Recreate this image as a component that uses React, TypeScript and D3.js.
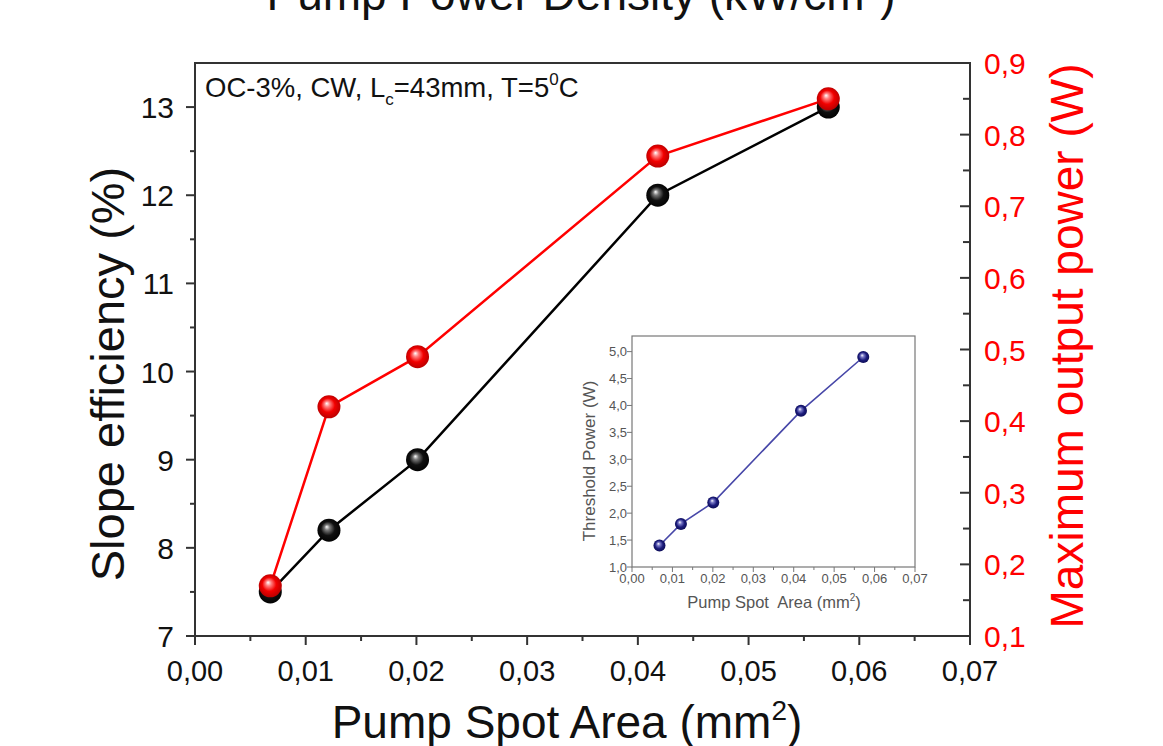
import React from "react";
import * as d3 from "d3";

// Pump spot area (mm^2) shared by all series
const spotArea = [0.0068, 0.0121, 0.0201, 0.0418, 0.0572];
// Slope efficiency (%), left axis
const slopeEfficiency = [7.5, 8.2, 9.0, 12.0, 13.0];
// Maximum output power (W), right axis
const maxOutputPower = [0.17, 0.42, 0.49, 0.77, 0.85];
// Threshold power (W), inset
const thresholdPower = [1.4, 1.8, 2.2, 3.9, 4.9];

const xTickValues = [0, 0.01, 0.02, 0.03, 0.04, 0.05, 0.06, 0.07];
const leftTickValues = [7, 8, 9, 10, 11, 12, 13];
const rightTickValues = [0.1, 0.2, 0.3, 0.4, 0.5, 0.6, 0.7, 0.8, 0.9];
const insetYTickValues = [1.0, 1.5, 2.0, 2.5, 3.0, 3.5, 4.0, 4.5, 5.0];

const comma = (f: string) => (v: number) => d3.format(f)(v).replace(".", ",");
const FONT = "'Liberation Sans', Arial, Helvetica, sans-serif";

function Sphere({ cx, cy, r, grad }: { cx: number; cy: number; r: number; grad: string }) {
  return <circle cx={cx} cy={cy} r={r} fill={`url(#${grad})`} />;
}

export default function App() {
  const W = 1163;
  const H = 746;
  const L = 195, R = 970, T = 63, B = 636;

  const x = d3.scaleLinear().domain([0, 0.07]).range([L, R]);
  const yL = d3.scaleLinear().domain([7, 13.5]).range([B, T]);
  const yR = d3.scaleLinear().domain([0.1, 0.9]).range([B, T]);

  const iL = 632, iR = 915, iT = 336, iB = 567;
  const ix = d3.scaleLinear().domain([0, 0.07]).range([iL, iR]);
  const iy = d3.scaleLinear().domain([1.0, 5.29]).range([iB, iT]);

  const blackLine = d3.line<number>().x((_, i) => x(spotArea[i])).y((d) => yL(d))(slopeEfficiency) || "";
  const redLine = d3.line<number>().x((_, i) => x(spotArea[i])).y((d) => yR(d))(maxOutputPower) || "";
  const blueLine = d3.line<number>().x((_, i) => ix(spotArea[i])).y((d) => iy(d))(thresholdPower) || "";

  const xMinor = d3.range(0.005, 0.07, 0.01);
  const leftMinor = d3.range(7.5, 13.5, 1);
  const rightMinor = d3.range(0.15, 0.9, 0.1);
  const insetXMinor = d3.range(0.005, 0.07, 0.01);

  const fx = comma(".2f");
  const fr = comma(".1f");

  return (
    <svg width={W} height={H} style={{ position: "absolute", left: 0, top: 0, background: "#fff" }} fontFamily={FONT}>
      <defs>
        <radialGradient id="gRed" cx="50%" cy="50%" r="55%" fx="40%" fy="35%">
          <stop offset="0%" stopColor="#ffffff" />
          <stop offset="22%" stopColor="#ff8080" />
          <stop offset="55%" stopColor="#f20000" />
          <stop offset="100%" stopColor="#b00000" />
        </radialGradient>
        <radialGradient id="gBlack" cx="50%" cy="50%" r="55%" fx="40%" fy="35%">
          <stop offset="0%" stopColor="#ffffff" />
          <stop offset="22%" stopColor="#777777" />
          <stop offset="55%" stopColor="#101010" />
          <stop offset="100%" stopColor="#000000" />
        </radialGradient>
        <radialGradient id="gNavy" cx="50%" cy="50%" r="55%" fx="40%" fy="35%">
          <stop offset="0%" stopColor="#ffffff" />
          <stop offset="25%" stopColor="#7a7ac8" />
          <stop offset="60%" stopColor="#1c1c7c" />
          <stop offset="100%" stopColor="#0a0a50" />
        </radialGradient>
      </defs>

      <rect x={0} y={0} width={W} height={H} fill="#fff" />

      {/* top axis title, running off the upper page edge */}
      <text x={581} y={10} fontSize={46} textAnchor="middle" fill="#111">
        Pump Power Density (kW/cm<tspan fontSize={28} dy={-18}>2</tspan><tspan dy={18}>)</tspan>
      </text>

      {/* frame */}
      <rect x={L} y={T} width={R - L} height={B - T} fill="none" stroke="#333" strokeWidth={2} />

      {/* bottom axis */}
      {xTickValues.map((v) => (
        <g key={"xt" + v}>
          <line x1={x(v)} x2={x(v)} y1={B} y2={B + 9} stroke="#333" strokeWidth={2} />
          <text x={x(v)} y={681} fontSize={29} textAnchor="middle" fill="#111">{fx(v)}</text>
        </g>
      ))}
      {xMinor.map((v) => (
        <line key={"xm" + v} x1={x(v)} x2={x(v)} y1={B} y2={B + 5} stroke="#333" strokeWidth={2} />
      ))}

      {/* left axis */}
      {leftTickValues.map((v) => (
        <g key={"lt" + v}>
          <line x1={L - 9} x2={L} y1={yL(v)} y2={yL(v)} stroke="#333" strokeWidth={2} />
          <text x={174} y={yL(v) + 11} fontSize={30} textAnchor="end" fill="#111">{v}</text>
        </g>
      ))}
      {leftMinor.map((v) => (
        <line key={"lm" + v} x1={L - 5} x2={L} y1={yL(v)} y2={yL(v)} stroke="#333" strokeWidth={2} />
      ))}

      {/* right axis */}
      {rightTickValues.map((v) => (
        <g key={"rt" + v}>
          <line x1={R - 10} x2={R} y1={yR(v)} y2={yR(v)} stroke="#333" strokeWidth={2} />
          <text x={984} y={yR(v) + 11} fontSize={30} textAnchor="start" fill="#ff0000">{fr(v)}</text>
        </g>
      ))}
      {rightMinor.map((v) => (
        <line key={"rm" + v} x1={R - 7} x2={R} y1={yR(v)} y2={yR(v)} stroke="#333" strokeWidth={2} />
      ))}

      {/* axis titles */}
      <text x={567} y={738} fontSize={46} textAnchor="middle" fill="#111">
        Pump Spot Area (mm<tspan fontSize={28} dy={-18}>2</tspan><tspan dy={18}>)</tspan>
      </text>
      <text transform="translate(124,374) rotate(-90)" fontSize={47} textAnchor="middle" fill="#111">
        Slope efficiency (%)
      </text>
      <text transform="translate(1083,346) rotate(-90)" fontSize={46} textAnchor="middle" fill="#ff0000">
        Maximum output power (W)
      </text>

      {/* condition note */}
      <text x={205} y={97} fontSize={27.5} fill="#111">
        OC-3%, CW, L<tspan fontSize={17} dy={8}>c</tspan>
        <tspan dy={-8}>=43mm, T=5</tspan>
        <tspan fontSize={17} dy={-12}>0</tspan>
        <tspan dy={12}>C</tspan>
      </text>

      {/* data lines and markers */}
      <path d={blackLine} fill="none" stroke="#000" strokeWidth={2.5} />
      <path d={redLine} fill="none" stroke="#ff0000" strokeWidth={2.5} />
      {slopeEfficiency.map((v, i) => (
        <Sphere key={"b" + i} cx={x(spotArea[i])} cy={yL(v)} r={11.5} grad="gBlack" />
      ))}
      {maxOutputPower.map((v, i) => (
        <Sphere key={"r" + i} cx={x(spotArea[i])} cy={yR(v)} r={11.5} grad="gRed" />
      ))}

      {/* inset: threshold power */}
      <rect x={iL} y={iT} width={iR - iL} height={iB - iT} fill="#fff" stroke="#777" strokeWidth={1.2} />
      {insetYTickValues.map((v) => (
        <g key={"iy" + v}>
          <line x1={iL - 5} x2={iL} y1={iy(v)} y2={iy(v)} stroke="#777" strokeWidth={1} />
          <text x={627} y={iy(v) + 4.5} fontSize={13} textAnchor="end" fill="#555">{fr(v)}</text>
        </g>
      ))}
      {xTickValues.map((v) => (
        <g key={"ix" + v}>
          <line x1={ix(v)} x2={ix(v)} y1={iB} y2={iB + 5} stroke="#777" strokeWidth={1} />
          <text x={ix(v)} y={583} fontSize={13} textAnchor="middle" fill="#555">{fx(v)}</text>
        </g>
      ))}
      {insetXMinor.map((v) => (
        <line key={"ixm" + v} x1={ix(v)} x2={ix(v)} y1={iB} y2={iB + 3} stroke="#777" strokeWidth={1} />
      ))}
      <text x={774} y={608} fontSize={16.5} textAnchor="middle" fill="#555" style={{ whiteSpace: "pre" }}>
        Pump Spot  Area (mm<tspan fontSize={10} dy={-7}>2</tspan><tspan dy={7}>)</tspan>
      </text>
      <text transform="translate(595,461) rotate(-90)" fontSize={17} textAnchor="middle" fill="#555">
        Threshold Power (W)
      </text>
      <path d={blueLine} fill="none" stroke="#4747a8" strokeWidth={1.6} />
      {thresholdPower.map((v, i) => (
        <Sphere key={"n" + i} cx={ix(spotArea[i])} cy={iy(v)} r={6} grad="gNavy" />
      ))}
    </svg>
  );
}
